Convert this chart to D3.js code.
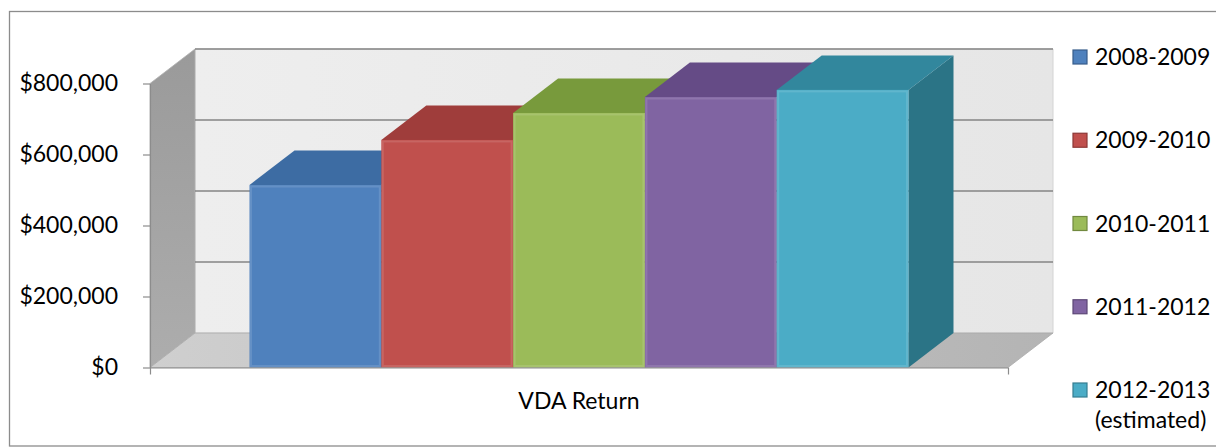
<!DOCTYPE html>
<html>
<head>
<meta charset="utf-8">
<script src="https://cdn.jsdelivr.net/npm/d3@7"></script>
<style>
  html, body { margin: 0; padding: 0; background: #fff; }
  svg { display: block; }
  text { font-family: Lato, "Open Sans", sans-serif; }
</style>
</head>
<body>
<svg id="chart" width="1216" height="447"></svg>
<script>
// ---- data ----
const categories = ["VDA Return"];
const series = ["2008-2009", "2009-2010", "2010-2011", "2011-2012", "2012-2013 (estimated)"];
const legendLines = [["2008-2009"], ["2009-2010"], ["2010-2011"], ["2011-2012"], ["2012-2013", "(estimated)"]];
const values = [514000, 641000, 717000, 762000, 782000];
const yTicks = [0, 200000, 400000, 600000, 800000];
const frontColors = ["#4f81bd", "#c0504d", "#9bbb59", "#8064a2", "#4bacc6"];
const topColors   = ["#3d6ca3", "#9f3d3b", "#789a3c", "#654b86", "#32879d"];
const sideColors  = ["#335a88", "#843230", "#62802f", "#533d6f", "#2b7486"];
const legendStroke = ["#385d8a", "#8c3836", "#71893f", "#5c4776", "#357d91"];

// ---- layout ----
const svg = d3.select("#chart");
const W = 1216, H = 447;
const left = 150, right = 1008;
const DX = 45, DY = -34.5;

const y = d3.scaleLinear().domain([0, 800000]).range([367.5, 83.5]);
const x0 = d3.scaleBand().domain(categories).range([left, right]).paddingInner(0).paddingOuter(0.151);
const x1 = d3.scaleBand().domain(series).range([0, x0.bandwidth()]).padding(0);

const poly = pts => "M" + pts.map(p => p.join(",")).join("L") + "Z";

const defs = svg.append("defs");
const g1 = defs.append("linearGradient").attr("id", "backWall").attr("x1", 0).attr("y1", 0).attr("x2", 1).attr("y2", 0);
g1.append("stop").attr("offset", 0).attr("stop-color", "#eeeeee");
g1.append("stop").attr("offset", 1).attr("stop-color", "#e6e6e6");
const g2 = defs.append("linearGradient").attr("id", "leftWall").attr("x1", 0).attr("y1", 0).attr("x2", 0).attr("y2", 1);
g2.append("stop").attr("offset", 0).attr("stop-color", "#9a9a9a");
g2.append("stop").attr("offset", 1).attr("stop-color", "#adadad");
const g3 = defs.append("linearGradient").attr("id", "floor").attr("x1", 0).attr("y1", 0).attr("x2", 1).attr("y2", 0);
g3.append("stop").attr("offset", 0).attr("stop-color", "#cfcfcf");
g3.append("stop").attr("offset", 1).attr("stop-color", "#b4b4b4");

// outer border
svg.append("rect").attr("x", 9.5).attr("y", 11.5).attr("width", 1212).attr("height", 434.5)
  .attr("fill", "#fff").attr("stroke", "#8c8c8c").attr("stroke-width", 1.3);

const yMax = y.domain()[1];
// back wall
svg.append("path")
  .attr("d", poly([[left + DX, y(yMax) + DY], [right + DX, y(yMax) + DY], [right + DX, y(0) + DY], [left + DX, y(0) + DY]]))
  .attr("fill", "url(#backWall)").attr("stroke", "#d4d4d4").attr("stroke-width", 1);
// left wall
svg.append("path")
  .attr("d", poly([[left, y(0)], [left, y(yMax)], [left + DX, y(yMax) + DY], [left + DX, y(0) + DY]]))
  .attr("fill", "url(#leftWall)").attr("stroke", "#b0b0b0").attr("stroke-width", 0.8);
// floor
svg.append("path")
  .attr("d", poly([[left, y(0)], [right, y(0)], [right + DX, y(0) + DY], [left + DX, y(0) + DY]]))
  .attr("fill", "url(#floor)").attr("stroke", "#a8a8a8").attr("stroke-width", 0.8);

// gridlines on back wall
svg.append("g").selectAll("line").data(yTicks.filter(d => d > 0)).join("line")
  .attr("x1", left + DX).attr("x2", right + DX)
  .attr("y1", d => y(d) + DY).attr("y2", d => y(d) + DY)
  .attr("stroke", "#858585").attr("stroke-width", 1.6);

// bars
const bars = svg.append("g");
series.forEach((s, i) => {
  const x = x0(categories[0]) + x1(s);
  const w = x1.bandwidth();
  const t = y(values[i]);
  const b = y(0);
  bars.append("path")
    .attr("d", poly([[x + w, t], [x + w + DX, t + DY], [x + w + DX, b + DY], [x + w, b]]))
    .attr("fill", sideColors[i]);
  bars.append("path")
    .attr("d", poly([[x, t], [x + w, t], [x + w + DX, t + DY], [x + DX, t + DY]]))
    .attr("fill", topColors[i]);
  bars.append("rect")
    .attr("x", x).attr("y", t).attr("width", w).attr("height", b - t)
    .attr("fill", frontColors[i]);
  bars.append("rect")
    .attr("x", x + 1.5).attr("y", t + 1.5).attr("width", w - 3).attr("height", b - t - 3)
    .attr("fill", "none").attr("stroke", "#ffffff").attr("stroke-opacity", 0.12).attr("stroke-width", 2);
});

// axes
const yAxis = d3.axisLeft(y).tickValues(yTicks).tickSizeInner(7).tickSizeOuter(0).tickPadding(25)
  .tickFormat(d3.format("$,"));
const gy = svg.append("g").attr("transform", `translate(${left},0)`).call(yAxis);
gy.select(".domain").attr("stroke", "#8c8c8c").attr("stroke-width", 1.2);
gy.selectAll(".tick line").attr("stroke", "#8c8c8c").attr("stroke-width", 1.2);
gy.selectAll("text").attr("font-size", 23).attr("fill", "#000").attr("font-family", "Lato, 'Open Sans', sans-serif");

const xAxis = d3.axisBottom(x0).tickSizeInner(0).tickSizeOuter(7).tickPadding(25);
const gx = svg.append("g").attr("transform", `translate(0,${y(0)})`).call(xAxis);
gx.select(".domain").attr("stroke", "#8c8c8c").attr("stroke-width", 1.2);
gx.selectAll(".tick line").remove();
gx.selectAll("text").attr("font-size", 23).attr("fill", "#000").attr("font-family", "Lato, 'Open Sans', sans-serif");

// legend
const legendY = d3.scalePoint().domain(series).range([57, 390]);
const lg = svg.append("g");
series.forEach((s, i) => {
  const cy = legendY(s);
  lg.append("rect").attr("x", 1073).attr("y", cy - 7).attr("width", 14).attr("height", 14)
    .attr("fill", frontColors[i]).attr("stroke", legendStroke[i]).attr("stroke-width", 1.2);
  legendLines[i].forEach((line, j) => {
    lg.append("text").attr("x", 1095).attr("y", cy + j * 30).attr("dy", "0.35em")
      .attr("font-size", 23).attr("fill", "#000").text(line);
  });
});
</script>
</body>
</html>
